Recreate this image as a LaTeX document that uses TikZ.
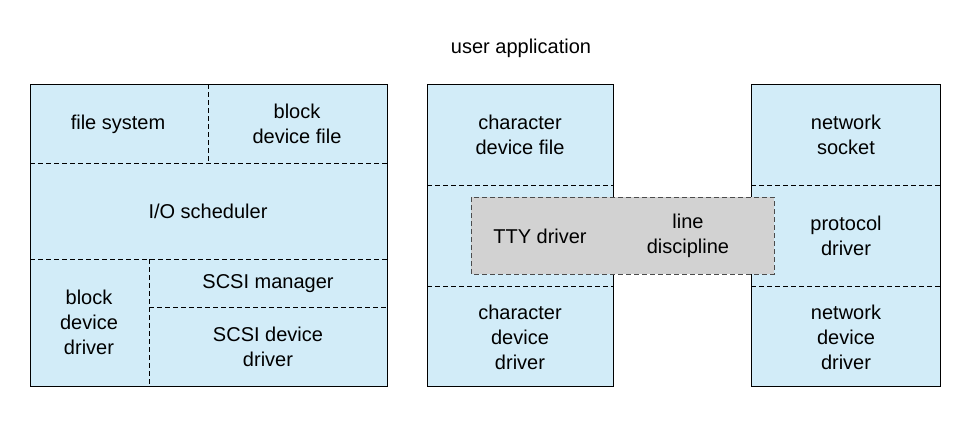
\documentclass[tikz,border=0pt]{standalone}
\usepackage{fontspec}
\setmainfont{Liberation Sans}
\definecolor{boxblue}{RGB}{210,236,248}
\definecolor{ttygray}{RGB}{210,210,210}
\begin{document}
\begin{tikzpicture}[
        x=1pt, y=-1pt,
        part/.style={draw=black, fill=boxblue, line width=0.8pt},
        split/.style={dashed, line width=0.7pt, dash pattern=on 5pt off 3pt},
        label/.style={align=center, font=\fontsize{20}{25}\selectfont, inner sep=0pt}
    ]
        \useasboundingbox (0,0) rectangle (970,424);

        % three stacks
        \draw[part] (30,84) rectangle (387,386);
        \draw[part] (427,84) rectangle (613,386);
        \draw[part] (751,84) rectangle (940,386);

        % block side
        \draw[split] (30,163) -- (387,163);
        \draw[split] (208,84) -- (208,163);
        \draw[split] (30,259) -- (387,259);
        \draw[split] (149,259) -- (149,386);
        \draw[split] (149,307) -- (387,307);

        % character and network sides
        \draw[split] (427,185) -- (613,185);
        \draw[split] (427,286) -- (613,286);
        \draw[split] (751,185) -- (940,185);
        \draw[split] (751,286) -- (940,286);

        % tty layer
        \draw[split, fill=ttygray, draw=black!70] (471,197) rectangle (774,274);

        \node[label] (user) at (521,48) {user application};
        \node[label] (fs) at (118,124) {file system};
        \node[label] (blkfile) at (297,124) {block\\device file};
        \node[label] (sched) at (208,211) {I/O scheduler};
        \node[label] (blkdrv) at (89,322) {block\\device\\driver};
        \node[label] (scsimgr) at (268,284) {SCSI manager};
        \node[label] (scsidrv) at (268,347) {SCSI device\\driver};
        \node[label] (chrfile) at (520,135) {character\\device file};
        \node[label] (chrdrv) at (520,337) {character\\device\\driver};
        \node[label] (tty) at (540,236) {TTY driver};
        \node[label] (ldisc) at (688,236) {line\\discipline};
        \node[label] (sock) at (846,135) {network\\socket};
        \node[label] (proto) at (846,236) {protocol\\driver};
        \node[label] (netdrv) at (846,337) {network\\device\\driver};
    \end{tikzpicture}
\end{document}
